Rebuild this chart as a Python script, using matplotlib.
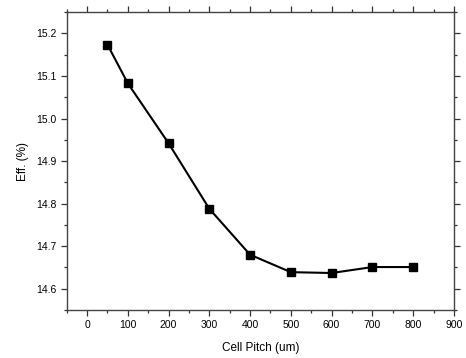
import matplotlib
matplotlib.use("Agg")
from matplotlib import pyplot as plt
from matplotlib.ticker import MultipleLocator

plt.rcParams['font.family'] = ['Liberation Sans', 'DejaVu Sans']

# data
cell_pitch = [50, 100, 200, 300, 400, 500, 600, 700, 800]
efficiency = [15.174, 15.083, 14.942, 14.788, 14.680, 14.639, 14.637, 14.651, 14.651]

fig = plt.figure(figsize=(4.66, 3.58), dpi=100)
ax = fig.add_axes([0.143, 0.134, 0.831, 0.832])

ax.plot(cell_pitch, efficiency, color="black", linewidth=1.5,
        marker="s", markersize=5.5, markerfacecolor="black", markeredgecolor="black")

ax.set_xlim(-50, 900)
ax.set_ylim(14.55, 15.25)
ax.xaxis.set_major_locator(MultipleLocator(100))
ax.xaxis.set_minor_locator(MultipleLocator(50))
ax.yaxis.set_major_locator(MultipleLocator(0.1))
ax.yaxis.set_minor_locator(MultipleLocator(0.05))
ax.yaxis.set_major_formatter(plt.FormatStrFormatter('%.1f'))

ax.tick_params(which="both", direction="out", top=True, right=True,
               labeltop=False, labelright=False, color="#333333", width=0.9)
ax.tick_params(which="major", length=4.5, labelsize=7.5, pad=3)
ax.tick_params(which="minor", length=2.5)
for sp in ax.spines.values():
    sp.set_color("#444444")
    sp.set_linewidth(1.0)

ax.set_xlabel("Cell Pitch (um)", fontsize=8.5, labelpad=8)
ax.set_ylabel("Eff. (%)", fontsize=8.5, labelpad=5)

fig.savefig("out.png", dpi=100)
